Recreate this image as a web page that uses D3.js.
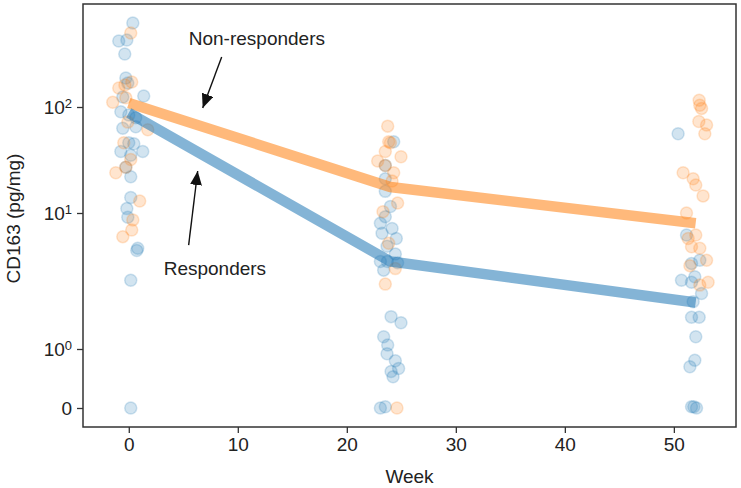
<!DOCTYPE html>
<html>
<head>
<meta charset="utf-8">
<script src="https://cdn.jsdelivr.net/npm/d3@7"></script>
<style>
  body { margin: 0; background: #fff; }
  text { font-family: "Liberation Sans", Arial, sans-serif; fill: #222; }
</style>
</head>
<body>
<div id="chart"></div>
<script>
// week 0 / 24 / 52 samples, [week (jittered), CD163]
let respWeek0 = [[0.37, 620], [-0.18, 428], [-0.92, 420], [-0.37, 316], [-0.27, 188], [-0.09, 168],
    [1.37, 127], [-0.55, 124], [-0.73, 90], [0, 84], [0.64, 79], [-0.55, 63], [0.64, 65],
    [0, 46], [0.46, 45], [-0.73, 38], [1.28, 38], [0.18, 35], [-0.27, 27], [0.18, 22],
    [0.18, 14], [-0.18, 11], [-0.09, 9.3], [0.82, 5.5], [0.73, 5.3], [0.18, 3.2], [0.18, 0]];
let nonRespWeek0 = [[0.18, 499], [0.27, 172], [-0.36, 161], [-0.92, 151], [-1.47, 111], [-0.27, 122],
    [-0.09, 72], [1.74, 61], [-0.46, 46], [0.18, 32], [-0.27, 27], [-1.19, 24], [1.0, 13],
    [0.37, 8.9], [0.27, 7.5], [-0.55, 6.7]];
let respWeek24 = [[24.3, 47], [23.53, 28], [23.53, 21], [23.53, 16], [24.0, 11.5], [23.53, 9.4],
    [23.08, 8.4], [24.15, 7.7], [23.23, 7.1], [24.54, 6.5], [23.69, 5.7], [24.45, 5.0],
    [23.08, 4.4], [23.72, 4.4], [24.66, 4.3], [23.38, 3.8], [24.06, 1.73], [24.97, 1.56],
    [23.38, 1.23], [23.75, 1.07], [23.69, 0.92], [24.45, 0.8], [24.75, 0.67], [24.06, 0.62],
    [24.24, 0.53], [23.08, 0], [23.53, 0.02]];
let nonRespWeek24 = [[23.75, 66], [23.84, 47], [24.0, 46], [23.53, 38], [22.83, 31], [24.97, 34],
    [23.53, 28], [24.3, 24], [24.15, 20], [24.66, 12.4], [23.32, 10.3], [23.84, 6.0],
    [24.45, 3.9], [23.53, 3.0], [24.6, 0]];
let respWeek52 = [[50.39, 56], [51.16, 6.9], [52.38, 4.5], [51.62, 4.26], [51.92, 3.4], [50.7, 3.2],
    [51.62, 3.1], [52.54, 2.56], [51.77, 2.23], [51.62, 1.71], [52.32, 1.71], [52.01, 1.23],
    [51.92, 0.81], [51.47, 0.7], [51.62, 0.02], [52.08, 0], [51.83, 0.02]];
let nonRespWeek52 = [[52.32, 116], [52.38, 104], [52.54, 97], [52.29, 73], [53.0, 67.6], [52.84, 56],
    [50.85, 24], [51.77, 21], [52.01, 18.4], [52.68, 14.5], [51.16, 10], [52.01, 6.9],
    [51.31, 6.5], [51.62, 5.65], [52.38, 5.5], [53.0, 4.5], [51.47, 4.1], [53.14, 3.1], [52.38, 2.95]];

// group means
let weeks = [0, 24, 52];
let respMean = [88, 4.4, 2.2];
let nonRespMean = [109, 17.6, 8.4];

let xTicks = [0, 10, 20, 30, 40, 50];
let yTicks = [0, 1, 10, 100];
let yTickLabels = [['0', ''], ['10', '0'], ['10', '1'], ['10', '2']];

let width = 741, height = 488,
    margin = {left: 83, top: 4, right: 5, bottom: 61},
    clipWidth = width - margin.left - margin.right,
    clipHeight = height - margin.top - margin.bottom;

let blue = '#1f77b4', orange = '#ff7f0e';

let svg = d3.select('#chart').append('svg')
    .attr('width', width)
    .attr('height', height);

let g = svg.append('g')
    .attr('transform', `translate(${margin.left}, ${margin.top})`);

let xScale = d3.scaleLinear()
    .domain([-4.2, 55.7])
    .range([0, clipWidth]);

// symlog-ish axis: linear below 1, log above
function tf(v) { return v < 1 ? v : 1 + Math.log10(v); }
let tScale = d3.scaleLinear()
    .domain([0, 1, 2, 3, 3.972])
    .range([clipHeight - 19, clipHeight - 78, clipHeight - 214, clipHeight - 320, 0]);
let yScale = v => tScale(tf(v));

let line = d3.line()
    .x(d => xScale(d[0]))
    .y(d => yScale(d[1]));

function drawPoints(data, color) {
    g.append('g').selectAll('circle')
        .data(data)
        .join('circle')
        .attr('cx', d => xScale(d[0]))
        .attr('cy', d => yScale(d[1]))
        .attr('r', 6)
        .attr('fill', color)
        .attr('fill-opacity', 0.2)
        .attr('stroke', color)
        .attr('stroke-opacity', 0.2)
        .attr('stroke-width', 1.5);
}

drawPoints(respWeek0.concat(respWeek24, respWeek52), blue);
drawPoints(nonRespWeek0.concat(nonRespWeek24, nonRespWeek52), orange);

g.append('path')
    .datum(weeks.map((w, i) => [w, nonRespMean[i]]))
    .attr('d', line)
    .attr('fill', 'none')
    .attr('stroke', orange)
    .attr('stroke-opacity', 0.55)
    .attr('stroke-width', 10.5);

g.append('path')
    .datum(weeks.map((w, i) => [w, respMean[i]]))
    .attr('d', line)
    .attr('fill', 'none')
    .attr('stroke', blue)
    .attr('stroke-opacity', 0.55)
    .attr('stroke-width', 10.5);

// axes
let xAxis = g.append('g')
    .attr('transform', `translate(0, ${clipHeight})`)
    .call(d3.axisBottom(xScale).tickValues(xTicks).tickSize(6).tickPadding(5));

let yAxis = g.append('g')
    .call(d3.axisLeft(tScale).tickValues(yTicks.map(tf)).tickSize(6).tickPadding(5).tickFormat(''));

yAxis.selectAll('.tick text')
    .each(function (d, i) {
        let t = d3.select(this);
        t.append('tspan').text(yTickLabels[i][0]);
        if (yTickLabels[i][1]) {
            t.append('tspan')
                .attr('dy', '-0.45em')
                .style('font-size', '13px')
                .text(yTickLabels[i][1]);
        }
    });

[xAxis, yAxis].forEach(a => {
    a.selectAll('text').style('font-size', '19px').attr('fill', '#222');
    a.selectAll('line').attr('stroke', '#333').attr('stroke-width', 1.3);
    a.select('.domain').remove();
});

g.append('rect')
    .attr('width', clipWidth)
    .attr('height', clipHeight)
    .attr('fill', 'none')
    .attr('stroke', '#333')
    .attr('stroke-width', 1.5);

svg.append('text')
    .attr('x', margin.left + clipWidth / 2)
    .attr('y', 483)
    .attr('text-anchor', 'middle')
    .style('font-size', '19px')
    .text('Week');

svg.append('text')
    .attr('transform', `translate(20, ${margin.top + clipHeight / 2 + 3}) rotate(-90)`)
    .attr('text-anchor', 'middle')
    .style('font-size', '19px')
    .text('CD163 (pg/mg)');

// annotations
let notes = [
    {label: 'Non-responders', text: [5.5, 385], from: [8.52, 296], to: [6.78, 98]},
    {label: 'Responders', text: [3.2, 3.5], from: [5.49, 5.8], to: [6.32, 24.9]}
];

svg.append('defs').append('marker')
    .attr('id', 'head')
    .attr('viewBox', '0 0 14 12')
    .attr('refX', 14)
    .attr('refY', 6)
    .attr('markerWidth', 14)
    .attr('markerHeight', 12)
    .attr('markerUnits', 'userSpaceOnUse')
    .attr('orient', 'auto')
    .append('path')
    .attr('d', 'M0,0L14,6L0,12Z')
    .attr('fill', '#111');

notes.forEach(n => {
    g.append('text')
        .attr('x', xScale(n.text[0]))
        .attr('y', yScale(n.text[1]))
        .style('font-size', '19px')
        .attr('fill', '#111')
        .text(n.label);
    g.append('line')
        .attr('x1', xScale(n.from[0]))
        .attr('y1', yScale(n.from[1]))
        .attr('x2', xScale(n.to[0]))
        .attr('y2', yScale(n.to[1]))
        .attr('stroke', '#111')
        .attr('stroke-width', 1.4)
        .attr('marker-end', 'url(#head)');
});
</script>
</body>
</html>
